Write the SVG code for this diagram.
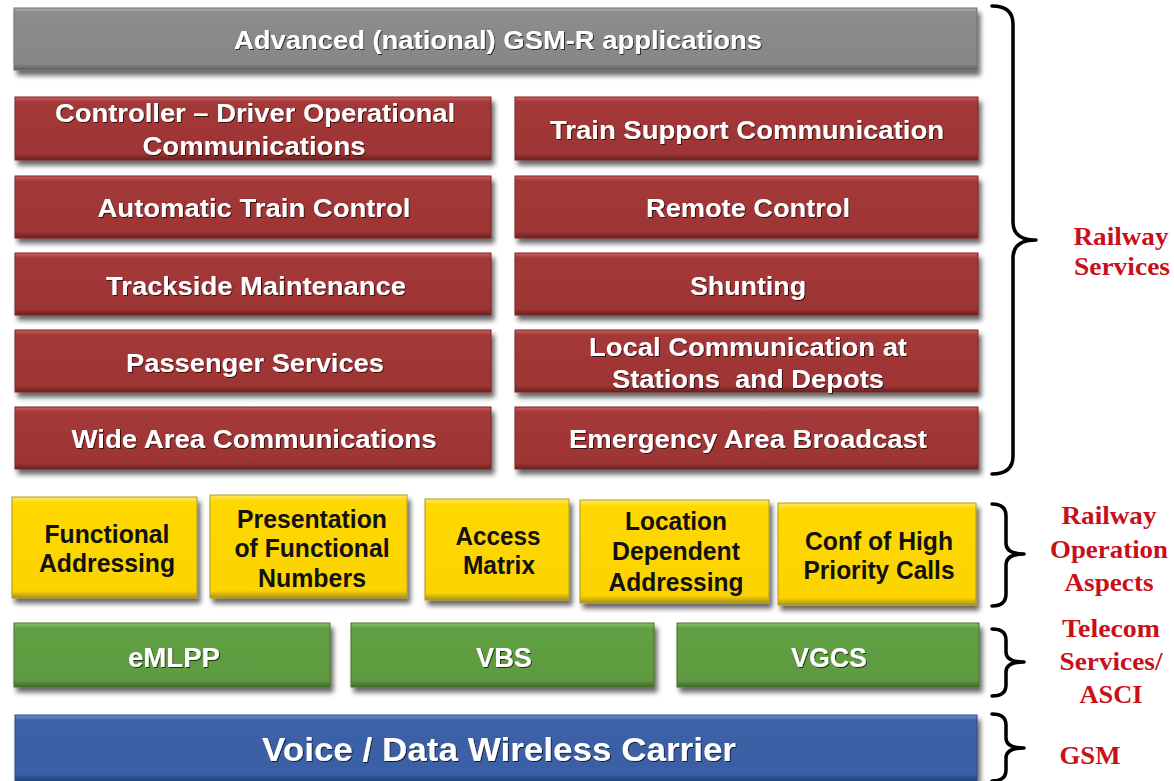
<svg xmlns="http://www.w3.org/2000/svg" width="1174" height="781" viewBox="0 0 1174 781">
<defs>
<filter id="sh" x="-5%" y="-20%" width="115%" height="150%">
<feGaussianBlur in="SourceAlpha" stdDeviation="2.5"/>
<feOffset dx="3" dy="5" result="b"/>
<feComponentTransfer><feFuncA type="linear" slope="0.6"/></feComponentTransfer>
<feMerge><feMergeNode/><feMergeNode in="SourceGraphic"/></feMerge>
</filter>
<filter id="tsh" x="-5%" y="-20%" width="110%" height="150%">
<feGaussianBlur in="SourceAlpha" stdDeviation="0.6"/>
<feOffset dx="1" dy="1.2"/>
<feComponentTransfer><feFuncA type="linear" slope="0.7"/></feComponentTransfer>
<feMerge><feMergeNode/><feMergeNode in="SourceGraphic"/></feMerge>
</filter>
<linearGradient id="gGray" x1="0" y1="0" x2="0" y2="1">
<stop offset="0" stop-color="#b4b4b4"/><stop offset="0.07" stop-color="#8c8c8c"/><stop offset="0.9" stop-color="#878787"/><stop offset="1" stop-color="#5e5e5e"/>
</linearGradient>
<linearGradient id="gRed" x1="0" y1="0" x2="0" y2="1">
<stop offset="0" stop-color="#d06060"/><stop offset="0.08" stop-color="#a43838"/><stop offset="0.9" stop-color="#9e3535"/><stop offset="1" stop-color="#6a2020"/>
</linearGradient>
<linearGradient id="gYel" x1="0" y1="0" x2="0" y2="1">
<stop offset="0" stop-color="#ffe766"/><stop offset="0.06" stop-color="#ffd800"/><stop offset="0.93" stop-color="#fbd300"/><stop offset="1" stop-color="#a89020"/>
</linearGradient>
<linearGradient id="gGrn" x1="0" y1="0" x2="0" y2="1">
<stop offset="0" stop-color="#8cc070"/><stop offset="0.08" stop-color="#62a044"/><stop offset="0.9" stop-color="#5e9a40"/><stop offset="1" stop-color="#3e6a2a"/>
</linearGradient>
<linearGradient id="gBlu" x1="0" y1="0" x2="0" y2="1">
<stop offset="0" stop-color="#6d8fd0"/><stop offset="0.08" stop-color="#3c62a8"/><stop offset="0.9" stop-color="#3a5fa4"/><stop offset="1" stop-color="#24407a"/>
</linearGradient>
<style>
.box{filter:url(#sh);stroke-width:1}
.gray{fill:url(#gGray);stroke:#6e6e6e}
.red{fill:url(#gRed);stroke:#7a2626}
.yel{fill:url(#gYel);stroke:#b09a20}
.grn{fill:url(#gGrn);stroke:#44722e}
.blu{fill:url(#gBlu);stroke:#2a4a88}
.wt{font-family:"Liberation Sans",Arial,sans-serif;font-weight:bold;fill:#ffffff;text-anchor:middle;filter:url(#tsh);white-space:pre}
.bt{font-family:"Liberation Sans",Arial,sans-serif;font-weight:bold;fill:#111111;text-anchor:middle}
.lab{font-family:"Liberation Serif","Times New Roman",serif;font-weight:bold;fill:#c8101a;font-size:26px;text-anchor:middle}
.brace{fill:none;stroke:#000;stroke-width:3.5;stroke-linecap:round;stroke-linejoin:round}
</style>
</defs>
<rect width="1174" height="781" fill="#ffffff"/>

<g id="advanced">
<rect class="box gray" x="14" y="8" width="963" height="62"/>
<text class="wt" x="498" y="49" font-size="26.5" textLength="528" lengthAdjust="spacingAndGlyphs">Advanced (national) GSM-R applications</text>
</g>

<g id="controller-driver">
<rect class="box red" x="15" y="97" width="476" height="63"/>
<text class="wt" x="255" y="122" font-size="26.5" textLength="400" lengthAdjust="spacingAndGlyphs">Controller – Driver Operational</text>
<text class="wt" x="254" y="155" font-size="26.5" textLength="223" lengthAdjust="spacingAndGlyphs">Communications</text>
</g>
<g id="train-support">
<rect class="box red" x="515" y="97" width="463" height="63"/>
<text class="wt" x="747" y="139" font-size="26.5" textLength="394" lengthAdjust="spacingAndGlyphs">Train Support Communication</text>
</g>
<g id="atc">
<rect class="box red" x="15" y="176" width="476" height="62"/>
<text class="wt" x="254" y="217" font-size="26.5" textLength="313" lengthAdjust="spacingAndGlyphs">Automatic Train Control</text>
</g>
<g id="remote-control">
<rect class="box red" x="515" y="176" width="463" height="62"/>
<text class="wt" x="748" y="217" font-size="26.5" textLength="204" lengthAdjust="spacingAndGlyphs">Remote Control</text>
</g>
<g id="trackside">
<rect class="box red" x="15" y="253" width="476" height="62"/>
<text class="wt" x="256" y="295" font-size="26.5" textLength="300" lengthAdjust="spacingAndGlyphs">Trackside Maintenance</text>
</g>
<g id="shunting">
<rect class="box red" x="515" y="253" width="463" height="62"/>
<text class="wt" x="748" y="295" font-size="26.5" textLength="116" lengthAdjust="spacingAndGlyphs">Shunting</text>
</g>
<g id="passenger">
<rect class="box red" x="15" y="330" width="476" height="62"/>
<text class="wt" x="255" y="372" font-size="26.5" textLength="258" lengthAdjust="spacingAndGlyphs">Passenger Services</text>
</g>
<g id="local-comm">
<rect class="box red" x="515" y="330" width="463" height="62"/>
<text class="wt" x="748" y="356" font-size="26.5" textLength="318" lengthAdjust="spacingAndGlyphs">Local Communication at</text>
<text class="wt" x="748" y="388" font-size="26.5" textLength="272" lengthAdjust="spacingAndGlyphs">Stations  and Depots</text>
</g>
<g id="wide-area">
<rect class="box red" x="15" y="407" width="476" height="62"/>
<text class="wt" x="254" y="448" font-size="26.5" textLength="365" lengthAdjust="spacingAndGlyphs">Wide Area Communications</text>
</g>
<g id="emergency">
<rect class="box red" x="515" y="407" width="463" height="62"/>
<text class="wt" x="748" y="448" font-size="26.5" textLength="358" lengthAdjust="spacingAndGlyphs">Emergency Area Broadcast</text>
</g>

<g id="functional-addressing">
<rect class="box yel" x="12" y="497" width="185" height="101"/>
<text class="bt" x="107" y="543" font-size="25" textLength="125" lengthAdjust="spacingAndGlyphs">Functional</text>
<text class="bt" x="107" y="572" font-size="25" textLength="136" lengthAdjust="spacingAndGlyphs">Addressing</text>
</g>
<g id="presentation">
<rect class="box yel" x="210" y="495" width="197" height="103"/>
<text class="bt" x="312" y="528" font-size="25" textLength="150" lengthAdjust="spacingAndGlyphs">Presentation</text>
<text class="bt" x="312" y="557" font-size="25" textLength="155" lengthAdjust="spacingAndGlyphs">of Functional</text>
<text class="bt" x="312" y="587" font-size="25" textLength="108" lengthAdjust="spacingAndGlyphs">Numbers</text>
</g>
<g id="access-matrix">
<rect class="box yel" x="425" y="499" width="144" height="101"/>
<text class="bt" x="498" y="545" font-size="25" textLength="85" lengthAdjust="spacingAndGlyphs">Access</text>
<text class="bt" x="499" y="574" font-size="25" textLength="72" lengthAdjust="spacingAndGlyphs">Matrix</text>
</g>
<g id="location-dependent">
<rect class="box yel" x="580" y="500" width="189" height="103"/>
<text class="bt" x="676" y="530" font-size="25" textLength="102" lengthAdjust="spacingAndGlyphs">Location</text>
<text class="bt" x="676" y="560" font-size="25" textLength="128" lengthAdjust="spacingAndGlyphs">Dependent</text>
<text class="bt" x="676" y="591" font-size="25" textLength="135" lengthAdjust="spacingAndGlyphs">Addressing</text>
</g>
<g id="conf-high-priority">
<rect class="box yel" x="778" y="503" width="198" height="102"/>
<text class="bt" x="879" y="550" font-size="25" textLength="148" lengthAdjust="spacingAndGlyphs">Conf of High</text>
<text class="bt" x="879" y="579" font-size="25" textLength="151" lengthAdjust="spacingAndGlyphs">Priority Calls</text>
</g>

<g id="emlpp">
<rect class="box grn" x="14" y="623" width="316" height="64"/>
<text class="wt" x="174" y="667" font-size="27" textLength="92" lengthAdjust="spacingAndGlyphs">eMLPP</text>
</g>
<g id="vbs">
<rect class="box grn" x="351" y="623" width="303" height="64"/>
<text class="wt" x="504" y="667" font-size="27" textLength="56" lengthAdjust="spacingAndGlyphs">VBS</text>
</g>
<g id="vgcs">
<rect class="box grn" x="677" y="623" width="302" height="64"/>
<text class="wt" x="829" y="667" font-size="27" textLength="76" lengthAdjust="spacingAndGlyphs">VGCS</text>
</g>

<g id="carrier">
<rect class="box blu" x="15" y="715" width="962" height="66"/>
<text class="wt" x="499" y="761" font-size="34" textLength="474" lengthAdjust="spacingAndGlyphs">Voice / Data Wireless Carrier</text>
</g>

<g id="connectors">
<path class="brace" d="M992,6 Q1013,6 1013,24 L1013,222 Q1013,240 1036,240 Q1013,240 1013,258 L1013,456 Q1013,474 992,474"/>
<path class="brace" d="M992,504 Q1006,504 1006,516 L1006,543 Q1006,554 1024,554 Q1006,554 1006,565 L1006,594 Q1006,606 992,606"/>
<path class="brace" d="M992,629 Q1006,629 1006,640 L1006,652 Q1006,662 1024,662 Q1006,662 1006,672 L1006,685 Q1006,696 992,696"/>
<path class="brace" d="M992,714 Q1006,714 1006,725 L1006,738 Q1006,748 1024,748 Q1006,748 1006,758 L1006,770 Q1006,781 992,781"/>
</g>

<g id="labels">
<text class="lab" x="1121" y="245" textLength="95" lengthAdjust="spacingAndGlyphs">Railway</text>
<text class="lab" x="1122" y="275" textLength="96" lengthAdjust="spacingAndGlyphs">Services</text>
<text class="lab" x="1109" y="524" textLength="95" lengthAdjust="spacingAndGlyphs">Railway</text>
<text class="lab" x="1109" y="558" textLength="118" lengthAdjust="spacingAndGlyphs">Operation</text>
<text class="lab" x="1109" y="591" textLength="89" lengthAdjust="spacingAndGlyphs">Aspects</text>
<text class="lab" x="1111" y="637" textLength="98" lengthAdjust="spacingAndGlyphs">Telecom</text>
<text class="lab" x="1111" y="670" textLength="103" lengthAdjust="spacingAndGlyphs">Services/</text>
<text class="lab" x="1111" y="703" textLength="63" lengthAdjust="spacingAndGlyphs">ASCI</text>
<text class="lab" x="1090" y="764" textLength="61" lengthAdjust="spacingAndGlyphs">GSM</text>
</g>
</svg>
